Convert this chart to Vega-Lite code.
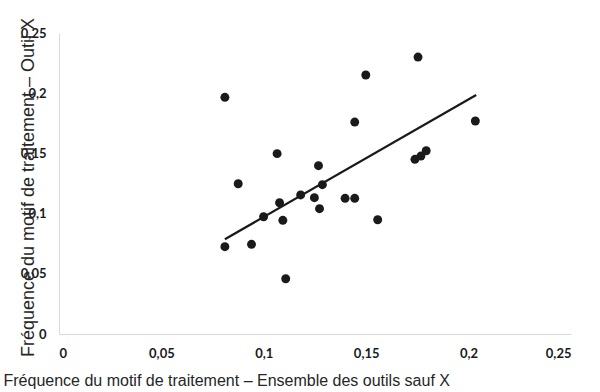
{
  "$schema": "https://vega.github.io/schema/vega-lite/v6.json",
  "width": 512,
  "height": 301,
  "autosize": {"type": "none"},
  "padding": {"left": 59, "top": 33, "right": 29, "bottom": 58},
  "background": "white",
  "config": {
    "view": {"stroke": null},
    "axis": {
      "grid": false,
      "ticks": false,
      "domainColor": "#d9d9d9",
      "domainWidth": 1,
      "labelFont": "Lato",
      "labelFontWeight": "bold",
      "labelFontSize": 13,
      "labelColor": "#1a1a1a",
      "titleFont": "Liberation Sans",
      "titleFontWeight": "normal",
      "titleFontSize": 16,
      "titleColor": "#262626"
    }
  },
  "layer": [
    {
      "data": {"values": [
        {"x": 0.081, "y": 0.1966},
        {"x": 0.081, "y": 0.0725},
        {"x": 0.0875, "y": 0.1248},
        {"x": 0.094, "y": 0.0745},
        {"x": 0.1065, "y": 0.1498},
        {"x": 0.0999, "y": 0.0974},
        {"x": 0.1077, "y": 0.109},
        {"x": 0.1093, "y": 0.0944},
        {"x": 0.1107, "y": 0.0459},
        {"x": 0.118, "y": 0.1155},
        {"x": 0.1247, "y": 0.1132},
        {"x": 0.1267, "y": 0.1398},
        {"x": 0.1286, "y": 0.124},
        {"x": 0.1272, "y": 0.1041},
        {"x": 0.1397, "y": 0.1127},
        {"x": 0.1444, "y": 0.1127},
        {"x": 0.1444, "y": 0.176},
        {"x": 0.1498, "y": 0.2151},
        {"x": 0.1556, "y": 0.0949},
        {"x": 0.1753, "y": 0.23},
        {"x": 0.1738, "y": 0.1451},
        {"x": 0.1767, "y": 0.1478},
        {"x": 0.1793, "y": 0.1522},
        {"x": 0.2033, "y": 0.1769}
      ]},
      "mark": {"type": "circle", "size": 80, "color": "#1a1a1a", "opacity": 1},
      "encoding": {
        "x": {
          "field": "x", "type": "quantitative",
          "scale": {"domain": [0, 0.25], "nice": false, "zero": true},
          "axis": {
            "values": [0, 0.05, 0.1, 0.15, 0.2, 0.25],
            "labelExpr": "replace(format(datum.value, '~g'), '.', ',')",
            "labelPadding": 13,
            "title": "Fréquence du motif de traitement – Ensemble des outils sauf X",
            "titleX": -56,
            "titleY": 46,
            "titleAlign": "left",
            "titleBaseline": "middle",
            "titleAnchor": null
          }
        },
        "y": {
          "field": "y", "type": "quantitative",
          "scale": {"domain": [0, 0.25], "nice": false, "zero": true},
          "axis": {
            "values": [0, 0.05, 0.1, 0.15, 0.2, 0.25],
            "labelExpr": "replace(format(datum.value, '~g'), '.', ',')",
            "labelPadding": 13,
            "title": "Fréquence du motif de traitement – Outil X",
            "titleFontSize": 18,
            "titleX": -31,
            "titleY": 154,
            "titleAngle": -90,
            "titleAlign": "center",
            "titleBaseline": "middle"
          }
        }
      }
    },
    {
      "data": {"values": [
        {"x": 0.081, "y": 0.0787},
        {"x": 0.2037, "y": 0.1985}
      ]},
      "mark": {"type": "line", "color": "#1a1a1a", "strokeWidth": 2.2},
      "encoding": {
        "x": {"field": "x", "type": "quantitative"},
        "y": {"field": "y", "type": "quantitative"}
      }
    }
  ]
}
